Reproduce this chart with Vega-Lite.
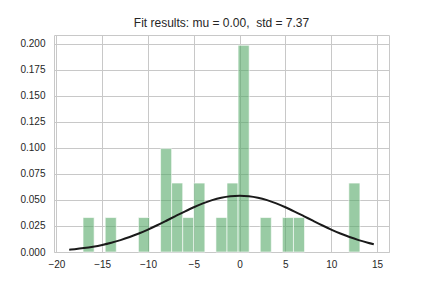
{
  "$schema": "https://vega.github.io/schema/vega-lite/v6.json",
  "autosize": {"type": "none"},
  "width": 335,
  "height": 217,
  "padding": {"left": 54, "top": 35, "right": 43, "bottom": 36},
  "background": "white",
  "title": {"text": "Fit results: mu = 0.00,\u00a0 std = 7.37", "font": "Liberation Sans", "fontSize": 12, "fontWeight": "normal", "color": "#262626", "offset": 5},
  "config": {
    "font": "Liberation Sans",
    "view": {"stroke": "#c8c8c8", "strokeWidth": 1},
    "axis": {"grid": true, "gridColor": "#c8c8c8", "gridWidth": 1, "gridOpacity": 1, "domain": false, "ticks": false, "labelFont": "Liberation Sans", "labelFontSize": 10, "labelColor": "#262626", "labelOverlap": false, "title": null}
  },
  "datasets": {
    "bars": [
      {"start": -17.09, "end": -15.88, "density": 0.0331},
      {"start": -14.67, "end": -13.46, "density": 0.0331},
      {"start": -11.045, "end": -9.836, "density": 0.0331},
      {"start": -8.627, "end": -7.418, "density": 0.0993},
      {"start": -7.418, "end": -6.209, "density": 0.0662},
      {"start": -6.209, "end": -5.0, "density": 0.0331},
      {"start": -5.0, "end": -3.791, "density": 0.0662},
      {"start": -2.582, "end": -1.373, "density": 0.0331},
      {"start": -1.373, "end": -0.164, "density": 0.0662},
      {"start": -0.164, "end": 1.045, "density": 0.1985},
      {"start": 2.254, "end": 3.463, "density": 0.0331},
      {"start": 4.672, "end": 5.881, "density": 0.0331},
      {"start": 5.881, "end": 7.09, "density": 0.0331},
      {"start": 11.926, "end": 13.135, "density": 0.0662}
    ],
    "curve": [
      {"x": -18.6, "pdf": 0.00224},
      {"x": -18, "pdf": 0.00274},
      {"x": -17, "pdf": 0.00378},
      {"x": -16, "pdf": 0.00513},
      {"x": -15, "pdf": 0.00682},
      {"x": -14, "pdf": 0.00891},
      {"x": -13, "pdf": 0.01142},
      {"x": -12, "pdf": 0.01438},
      {"x": -11, "pdf": 0.01777},
      {"x": -10, "pdf": 0.02156},
      {"x": -9, "pdf": 0.02568},
      {"x": -8, "pdf": 0.03003},
      {"x": -7, "pdf": 0.03448},
      {"x": -6, "pdf": 0.03886},
      {"x": -5, "pdf": 0.04301},
      {"x": -4, "pdf": 0.04671},
      {"x": -3, "pdf": 0.04983},
      {"x": -2, "pdf": 0.05218},
      {"x": -1, "pdf": 0.05363},
      {"x": 0, "pdf": 0.05413},
      {"x": 1, "pdf": 0.05363},
      {"x": 2, "pdf": 0.05218},
      {"x": 3, "pdf": 0.04983},
      {"x": 4, "pdf": 0.04671},
      {"x": 5, "pdf": 0.04301},
      {"x": 6, "pdf": 0.03886},
      {"x": 7, "pdf": 0.03448},
      {"x": 8, "pdf": 0.03003},
      {"x": 9, "pdf": 0.02568},
      {"x": 10, "pdf": 0.02156},
      {"x": 11, "pdf": 0.01777},
      {"x": 12, "pdf": 0.01438},
      {"x": 13, "pdf": 0.01142},
      {"x": 14, "pdf": 0.00891},
      {"x": 14.65, "pdf": 0.00751}
    ]
  },
  "layer": [
    {
      "data": {"name": "bars"},
      "mark": {"type": "rect", "fill": "#55a868", "fillOpacity": 0.6, "stroke": "white", "strokeWidth": 1, "strokeOpacity": 0.6},
      "encoding": {
        "x": {"field": "start", "type": "quantitative", "scale": {"domain": [-20.26, 16.31], "nice": false, "zero": false}, "axis": {"values": [-20, -15, -10, -5, 0, 5, 10, 15], "labelPadding": 7, "format": "d"}},
        "x2": {"field": "end"},
        "y": {"field": "density", "type": "quantitative", "scale": {"domain": [0, 0.2084], "nice": false}, "axis": {"values": [0, 0.025, 0.05, 0.075, 0.1, 0.125, 0.15, 0.175, 0.2], "format": ".3f", "labelPadding": 9}},
        "y2": {"datum": 0}
      }
    },
    {
      "data": {"name": "curve"},
      "mark": {"type": "line", "color": "#1a1a1a", "strokeWidth": 2, "interpolate": "monotone"},
      "encoding": {
        "x": {"field": "x", "type": "quantitative", "scale": {"domain": [-20.26, 16.31], "nice": false, "zero": false}, "axis": {"values": [-20, -15, -10, -5, 0, 5, 10, 15], "labelPadding": 7, "format": "d"}},
        "y": {"field": "pdf", "type": "quantitative", "scale": {"domain": [0, 0.2084], "nice": false}, "axis": {"values": [0, 0.025, 0.05, 0.075, 0.1, 0.125, 0.15, 0.175, 0.2], "format": ".3f", "labelPadding": 9}}
      }
    }
  ]
}
